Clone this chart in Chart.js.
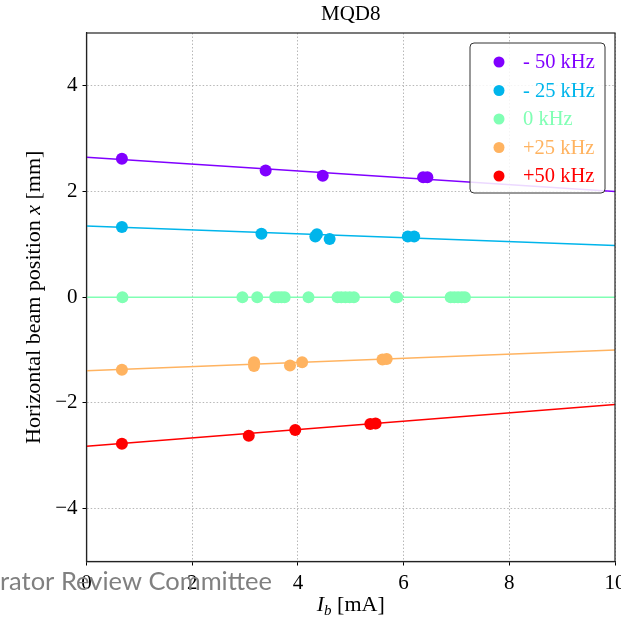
<!DOCTYPE html>
<html>
<head>
<meta charset="utf-8">
<script src="https://cdn.jsdelivr.net/npm/chart.js@4.4.0/dist/chart.umd.min.js"></script>
<style>
  html, body { margin: 0; padding: 0; background: #fff; overflow: hidden; }
  canvas { display: block; }
</style>
</head>
<body>
<canvas id="beamChart" width="621" height="618"></canvas>
<script>
const serif = "'Liberation Serif', 'DejaVu Serif', serif";

// series
const seriesLabels = ['- 50 kHz', '- 25 kHz', '0 kHz', '+25 kHz', '+50 kHz'];
const seriesColours = ['#8000ff', '#00b5eb', '#80ffb4', '#ffb360', '#ff0000'];

// measured points (beam current in mA, position in mm)
const m50X = [0.67, 3.39, 4.47, 6.37, 6.45];
const m50Y = [2.62, 2.40, 2.30, 2.27, 2.27];
const m25X = [0.67, 3.31, 4.36, 4.33, 4.60, 6.08, 6.20];
const m25Y = [1.33, 1.20, 1.19, 1.15, 1.10, 1.15, 1.15];
const zeroX = [0.68, 2.95, 3.23, 3.57, 3.63, 3.69, 3.75, 4.20, 4.75, 4.82, 4.90, 4.98, 5.06, 5.85, 5.88, 6.89, 6.96, 7.03, 7.10, 7.16];
const zeroY = [0, 0, 0, 0, 0, 0, 0, 0, 0, 0, 0, 0, 0, 0, 0, 0, 0, 0, 0, 0];
const p25X = [0.67, 3.17, 3.17, 3.85, 4.08, 5.60, 5.68];
const p25Y = [-1.37, -1.23, -1.30, -1.29, -1.23, -1.18, -1.17];
const p50X = [0.67, 3.07, 3.95, 5.37, 5.47];
const p50Y = [-2.77, -2.62, -2.51, -2.40, -2.39];

// linear fits: value at each end of the current range
const fitX = [0, 10];
const fitStart = [2.65, 1.35, 0, -1.39, -2.82];
const fitEnd = [2.00, 0.98, 0, -1.00, -2.03];

// axes
const xTicks = [0, 2, 4, 6, 8, 10];
const yTicks = [-4, -2, 0, 2, 4];

const pointSets = [[m50X, m50Y], [m25X, m25Y], [zeroX, zeroY], [p25X, p25Y], [p50X, p50Y]];

const zip = (xs, ys) => xs.map((x, i) => ({ x, y: ys[i] }));
const minus = v => (v < 0 ? '\u2212' + Math.abs(v) : String(v));

const datasets = [];
seriesLabels.forEach((label, i) => {
  datasets.push({
    label: label + ' fit',
    type: 'line',
    data: [{ x: fitX[0], y: fitStart[i] }, { x: fitX[1], y: fitEnd[i] }],
    borderColor: seriesColours[i],
    borderWidth: 1.5,
    pointRadius: 0,
    fill: false,
    order: 2
  });
  datasets.push({
    label,
    type: 'scatter',
    data: zip(pointSets[i][0], pointSets[i][1]),
    backgroundColor: seriesColours[i],
    borderWidth: 0,
    pointRadius: 6,
    pointHoverRadius: 6,
    order: 1
  });
});

// frame, legend, axis titles and the slide footer
const decorations = {
  id: 'decorations',
  afterDraw(chart) {
    const { ctx, chartArea: a } = chart;
    ctx.save();

    ctx.strokeStyle = '#222';
    ctx.lineWidth = 1.2;
    ctx.strokeRect(a.left, a.top, a.right - a.left, a.bottom - a.top);

    // legend box
    const lx = 470, ly = 43, lw = 135, lh = 150;
    ctx.beginPath();
    ctx.roundRect(lx, ly, lw, lh, 4);
    ctx.fillStyle = 'rgba(255,255,255,0.85)';
    ctx.fill();
    ctx.strokeStyle = '#333';
    ctx.lineWidth = 1;
    ctx.stroke();
    ctx.font = `20.5px ${serif}`;
    ctx.textBaseline = 'middle';
    ctx.textAlign = 'left';
    seriesLabels.forEach((label, i) => {
      const y = 62 + i * 28.5;
      ctx.fillStyle = seriesColours[i];
      ctx.beginPath();
      ctx.arc(499, y, 5.5, 0, Math.PI * 2);
      ctx.fill();
      ctx.fillText(label, 523, y + 1);
    });

    // y title with italic x
    const yParts = [
      ['Horizontal beam position ', `22px ${serif}`],
      ['x', `italic 22px ${serif}`],
      [' [mm]', `22px ${serif}`]
    ];
    let total = 0;
    yParts.forEach(([t, f]) => { ctx.font = f; total += ctx.measureText(t).width; });
    ctx.save();
    ctx.translate(34, (a.top + a.bottom) / 2);
    ctx.rotate(-Math.PI / 2);
    ctx.fillStyle = '#000';
    ctx.textBaseline = 'middle';
    let px = -total / 2;
    yParts.forEach(([t, f]) => { ctx.font = f; ctx.fillText(t, px, 0); px += ctx.measureText(t).width; });
    ctx.restore();

    // x title: I_b [mA]
    ctx.fillStyle = '#000';
    ctx.textBaseline = 'alphabetic';
    ctx.font = `italic 22px ${serif}`;
    const wI = ctx.measureText('I').width;
    ctx.font = `italic 15px ${serif}`;
    const wb = ctx.measureText('b').width;
    ctx.font = `22px ${serif}`;
    const wu = ctx.measureText(' [mA]').width;
    let tx = (a.left + a.right) / 2 - (wI + wb + wu) / 2;
    const base = 611;
    ctx.font = `italic 22px ${serif}`;
    ctx.fillText('I', tx, base); tx += wI;
    ctx.font = `italic 15px ${serif}`;
    ctx.fillText('b', tx, base + 4); tx += wb;
    ctx.font = `22px ${serif}`;
    ctx.fillText(' [mA]', tx, base);

    // footer text from the slide
    ctx.font = "25.5px 'Lato', 'Open Sans', sans-serif";
    ctx.fillStyle = '#808080';
    ctx.fillText('rator Review Committee', 0, 590);

    ctx.restore();
  }
};

new Chart(document.getElementById('beamChart'), {
  type: 'scatter',
  data: { datasets },
  plugins: [decorations],
  options: {
    responsive: false,
    animation: false,
    layout: { padding: { left: 0, right: 5.5, top: 0, bottom: 0 } },
    plugins: {
      legend: { display: false },
      tooltip: { enabled: false },
      title: {
        display: true,
        text: 'MQD8',
        fullSize: false,
        color: '#000',
        font: { family: serif, size: 21, weight: 'normal' },
        padding: { top: 2, bottom: 5.8 }
      }
    },
    scales: {
      x: {
        type: 'linear',
        min: 0,
        max: 10,
        afterBuildTicks: s => { s.ticks = xTicks.map(value => ({ value })); },
        afterFit: s => { s.height = 56.5; s.paddingLeft = 0; s.paddingRight = 0; },
        ticks: {
          color: '#000',
          padding: 5,
          maxRotation: 0,
          autoSkip: false,
          font: { family: serif, size: 21 },
          callback: v => minus(v)
        },
        grid: { color: '#b8b8b8', lineWidth: 1, tickColor: '#000', tickLength: 4 },
        border: { display: true, color: '#222', width: 1.2, dash: [1.5, 2] }
      },
      y: {
        type: 'linear',
        min: -5,
        max: 5,
        afterBuildTicks: s => { s.ticks = yTicks.map(value => ({ value })); },
        afterFit: s => { s.width = 86.5; s.paddingTop = 0; s.paddingBottom = 0; },
        ticks: {
          color: '#000',
          padding: 5,
          autoSkip: false,
          font: { family: serif, size: 21 },
          callback: v => minus(v)
        },
        grid: { color: '#b8b8b8', lineWidth: 1, tickColor: '#000', tickLength: 4 },
        border: { display: true, color: '#222', width: 1.2, dash: [1.5, 2] }
      }
    }
  }
});
</script>
</body>
</html>
